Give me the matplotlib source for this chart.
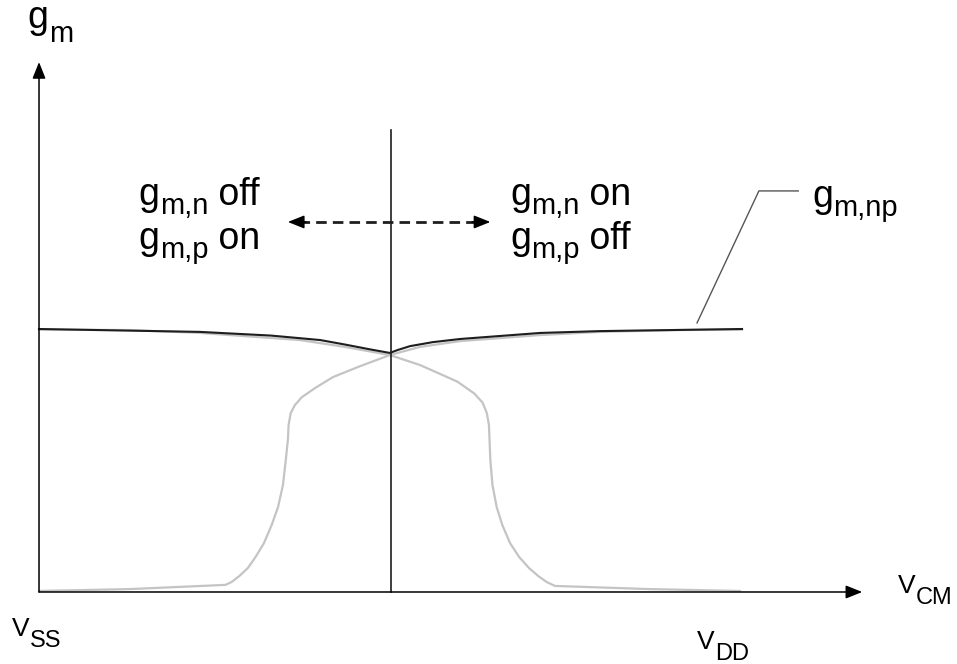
import numpy as np
import matplotlib
matplotlib.use("Agg")
import matplotlib.pyplot as plt

plt.rcParams['font.family'] = ['Liberation Sans', 'DejaVu Sans']

# common-mode voltage, normalised: 0 = V_SS, 1 = V_DD
# transconductance, normalised to the flat g_m,np level
vcm_n = [0.000, 0.129, 0.265, 0.274, 0.285, 0.297, 0.308, 0.320, 0.331, 0.340,
         0.347, 0.351, 0.354, 0.355, 0.358, 0.364, 0.374, 0.393, 0.418, 0.457,
         0.499, 0.542, 0.599, 0.713, 0.798, 0.912, 1.000]
gm_n = [0.004, 0.011, 0.027, 0.038, 0.061, 0.091, 0.133, 0.186, 0.255, 0.323,
        0.407, 0.502, 0.578, 0.635, 0.680, 0.711, 0.741, 0.776, 0.817, 0.859,
        0.901, 0.932, 0.954, 0.977, 0.989, 0.996, 0.998]

vcm_p = [0.000, 0.129, 0.229, 0.371, 0.435, 0.499, 0.542, 0.595, 0.619, 0.631,
         0.637, 0.640, 0.642, 0.645, 0.651, 0.659, 0.670, 0.683, 0.697, 0.710,
         0.722, 0.734, 0.869, 0.997]
gm_p = [0.998, 0.996, 0.985, 0.958, 0.932, 0.901, 0.863, 0.800, 0.755, 0.720,
        0.680, 0.635, 0.502, 0.407, 0.323, 0.255, 0.186, 0.133, 0.091, 0.061,
        0.038, 0.023, 0.011, 0.004]

vcm_np = [0.000, 0.229, 0.330, 0.400, 0.435, 0.470, 0.499, 0.510, 0.528, 0.560,
          0.599, 0.713, 0.798, 1.000]
gm_np = [1.000, 0.989, 0.975, 0.958, 0.941, 0.923, 0.909, 0.920, 0.935, 0.950,
         0.962, 0.985, 0.992, 1.000]

fig = plt.figure(figsize=(9.57, 6.64), dpi=100)
ax = fig.add_axes([0, 0, 1, 1])
ax.set_xlim(-0.0555, 1.3058)
ax.set_ylim(-0.2738, 2.2510)
ax.axis('off')
renderer = fig.canvas.get_renderer()

### curves
ax.plot(vcm_n, gm_n, color='#c4c4c4', lw=1.6, zorder=2, solid_joinstyle='round')
ax.plot(vcm_p, gm_p, color='#c4c4c4', lw=1.6, zorder=2, solid_joinstyle='round')
ax.plot(vcm_np, gm_np, color='#1e1e1e', lw=1.5, zorder=3, solid_joinstyle='round')

### axes with arrows
head = dict(arrowstyle='-|>,head_length=0.5,head_width=0.2', mutation_scale=20,
            color='black', lw=1.1, shrinkA=0, shrinkB=0)
ax.annotate('', xy=(0, 2.015), xytext=(0, 0), arrowprops=head)
ax.annotate('', xy=(1.171, 0), xytext=(0, 0), arrowprops=head)

### mid-range line
ax.plot([0.5, 0.5], [0, 1.757], color='#1e1e1e', lw=1.2)

### dashed double arrow
ax.plot([0.37, 0.626], [1.407, 1.407], color='#1e1e1e', lw=2.0, dashes=(3.8, 2.2))
ax.annotate('', xy=(0.354, 1.407), xytext=(0.38, 1.407), arrowprops=head)
ax.annotate('', xy=(0.642, 1.407), xytext=(0.616, 1.407), arrowprops=head)

### leader for g_m,np
ax.plot([0.936, 1.024, 1.080], [1.023, 1.525, 1.525], color='#555555', lw=1.0)


def rich(x, y, parts, family=None):
    # parts: (text, fontsize, drop in pixels); placed one after another
    dx = 0
    for s, size, drop in parts:
        kw = {} if family is None else {'family': family}
        t = ax.annotate(s, xy=(x, y), xytext=(dx, -drop), textcoords='offset pixels',
                        fontsize=size, va='baseline', ha='left', **kw)
        dx += t.get_window_extent(renderer).width


big, small = 27, 21
rich(-0.016, 2.144, [('g', big, 0), ('m', small, 14)])
rich(0.142, 1.471, [('g', big, 0), ('m,n', small, 9), (' off', big, 0)])
rich(0.142, 1.304, [('g', big, 0), ('m,p', small, 9), (' on', big, 0)])
rich(0.670, 1.471, [('g', big, 0), ('m,n', small, 9), (' on', big, 0)])
rich(0.670, 1.304, [('g', big, 0), ('m,p', small, 9), (' off', big, 0)])
rich(1.100, 1.464, [('g', big, 0), ('m,np', small, 9)])

narrow = ['Liberation Sans Narrow', 'Liberation Sans']
rich(1.222, -0.004, [('V', 19, 0), ('CM', 17, 11)], family=narrow)
rich(-0.038, -0.167, [('V', 19, 0), ('SS', 17, 11)], family=narrow)
rich(0.936, -0.215, [('V', 19, 0), ('DD', 17, 11)], family=narrow)

plt.savefig('out.png', dpi=100)
